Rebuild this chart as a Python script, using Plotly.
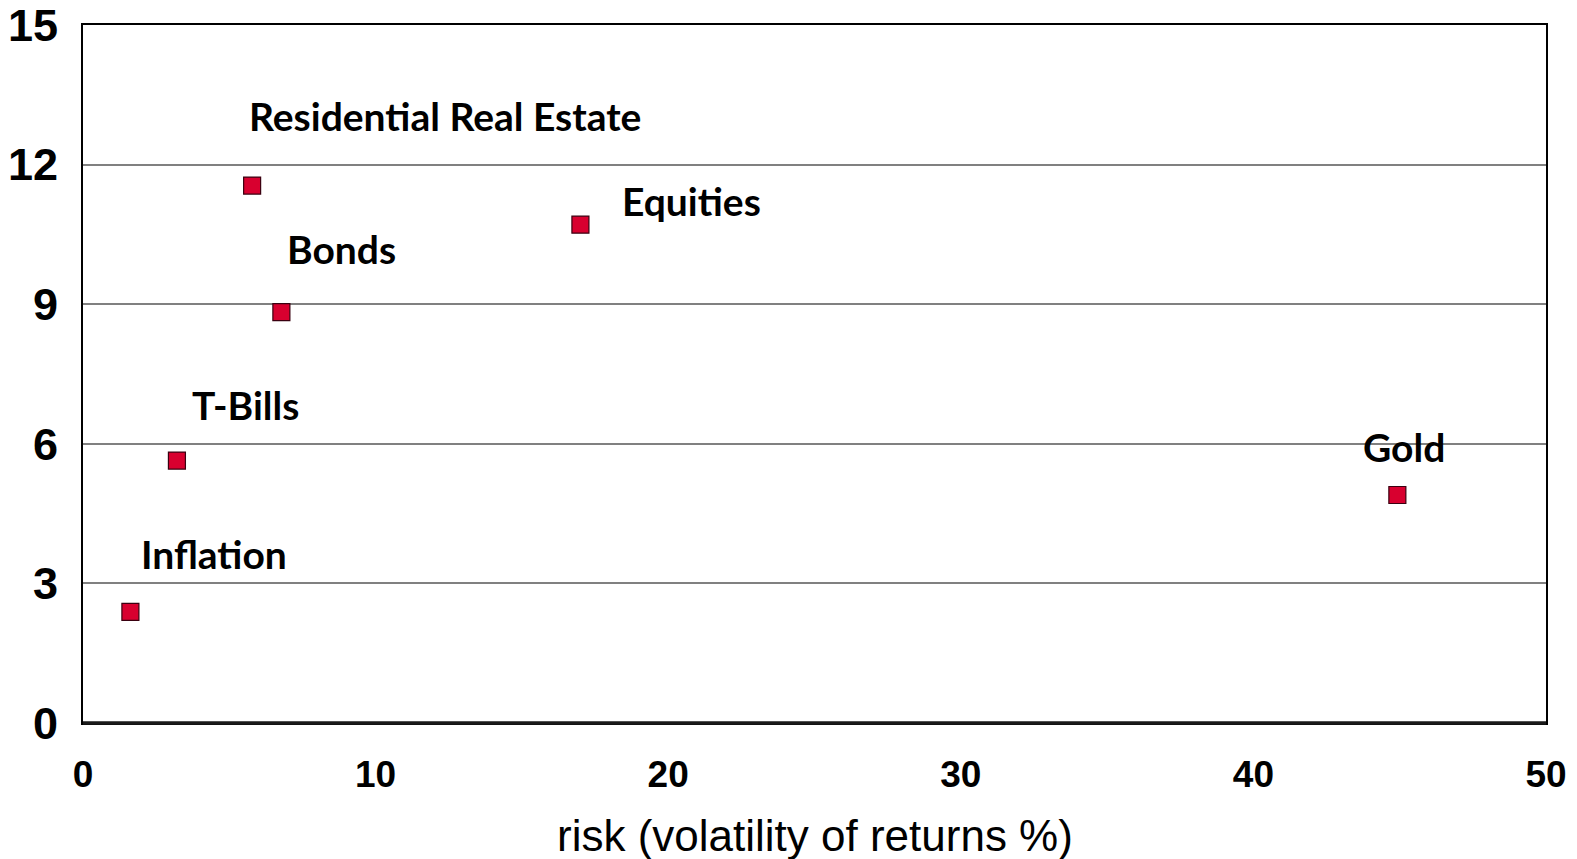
import plotly.graph_objects as go

assets = ["Residential Real Estate", "Equities", "Bonds", "T-Bills", "Gold", "Inflation"]
risk = [5.78, 17.0, 6.78, 3.21, 44.92, 1.62]
ret = [11.55, 10.71, 8.83, 5.64, 4.90, 2.39]
# label anchor positions (data units, left/middle anchored)
label_x = [5.62, 18.34, 6.92, 3.64, 43.68, 1.90]
label_y = [13.05, 11.22, 10.19, 6.83, 5.93, 3.63]

x_ticks = [0, 10, 20, 30, 40, 50]
y_ticks = [0, 3, 6, 9, 12, 15]
x_title = "risk (volatility of returns %)"

fig = go.Figure()
fig.add_trace(go.Scatter(
    x=risk, y=ret, mode="markers",
    marker=dict(symbol="square", size=17, color="#D8002F",
                line=dict(color="#3a0010", width=1.2)),
    hoverinfo="text", text=assets, showlegend=False,
))

for name, lx, ly in zip(assets, label_x, label_y):
    fig.add_annotation(x=lx, y=ly, text=name, showarrow=False,
                       xanchor="left", yanchor="middle",
                       font=dict(family="Lato", size=39, color="black", weight="bold"))

fig.add_annotation(x=0.5, y=0, xref="paper", yref="paper", text=x_title,
                   showarrow=False, xanchor="center", yanchor="middle", yshift=-112,
                   font=dict(family="Liberation Sans", size=44, color="black"))

# thick bottom axis line
fig.add_shape(type="line", xref="paper", yref="paper", x0=0, x1=1, y0=0, y1=0,
              line=dict(color="#1a1a1a", width=3.5), layer="above")

fig.update_layout(
    width=1577, height=859,
    margin=dict(l=83, r=31, t=25, b=136),
    plot_bgcolor="white", paper_bgcolor="white",
    xaxis=dict(range=[0, 50], tickvals=x_ticks, ticktext=[str(v) for v in x_ticks],
               showgrid=False, zeroline=False, automargin=False,
               ticklabeloverflow="allow",
               showline=True, linecolor="black", linewidth=2, mirror=True,
               ticks="outside", ticklen=18, tickcolor="rgba(0,0,0,0)",
               tickfont=dict(family="Liberation Sans", size=37, color="black", weight="bold")),
    yaxis=dict(range=[0, 15], tickvals=y_ticks, ticktext=[str(v) for v in y_ticks],
               showgrid=True, gridcolor="#808080", gridwidth=1.5, zeroline=False,
               automargin=False, ticklabeloverflow="allow",
               showline=True, linecolor="black", linewidth=2, mirror=True,
               ticks="outside", ticklen=14, tickcolor="rgba(0,0,0,0)",
               tickfont=dict(family="Liberation Sans", size=45, color="black", weight="bold")),
)

fig.write_html("out.html", config={"displayModeBar": False},
               post_script="document.body.style.margin='0';document.body.style.overflow='hidden';")
